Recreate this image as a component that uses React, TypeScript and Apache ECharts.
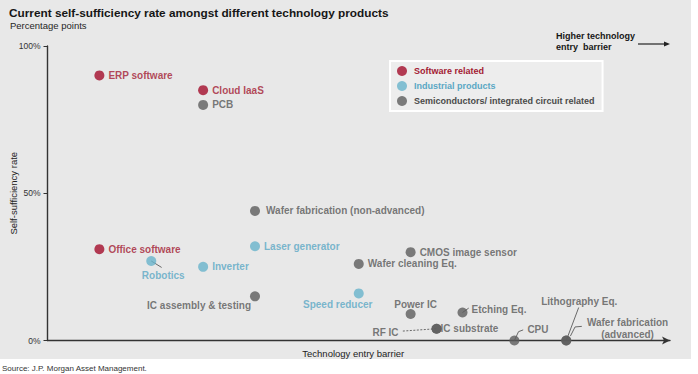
import React, { useEffect, useRef } from 'react';
import * as echarts from 'echarts';

const FONT = "'Liberation Sans', Arial, Helvetica, sans-serif";

// ---- Data ----
const seriesNames = ['Software related', 'Industrial products', 'Semiconductors/ integrated circuit related'];

const softwareNames = ['ERP software', 'Cloud IaaS', 'Office software'];
const softwareX = [1, 3, 1];
const softwareY = [90, 85, 31];

const industrialNames = ['Robotics', 'Inverter', 'Laser generator', 'Speed reducer'];
const industrialX = [2, 3, 4, 6];
const industrialY = [27, 25, 32, 16];

const semiNames = [
  'PCB', 'Wafer fabrication (non-advanced)', 'IC assembly & testing', 'Wafer cleaning Eq.',
  'CMOS image sensor', 'Power IC', 'RF IC', 'IC substrate', 'Etching Eq.', 'CPU',
  'Lithography Eq.', 'Wafer fabrication\n(advanced)',
];
const semiX = [3, 4, 4, 6, 7, 7, 7.5, 7.5, 8, 9, 10, 10];
const semiY = [80, 44, 15, 26, 30, 9, 4, 4, 9.5, 0, 0, 0];

const yTicks = [0, 50, 100];

// leader lines (data units)
const leaderPaths: number[][][] = [
  [[2, 27], [2.2, 24.8]],
  [[6.85, 3.2], [7.5, 4]],
  [[9, 0], [9.08, 3.0], [9.17, 3.6]],
  [[10, 0], [10.24, 11.2]],
  [[10.08, 1.5], [10.17, 4.6], [10.3, 4.8]],
  [[8, 9.5], [8.12, 11]],
];
const dashedLeaders = [false, true, false, false, false, false];

// ---- styling (not data) ----
const RED = '#a30d2a';
const RED_TXT = '#a31a33';
const TEAL = '#68b3cb';
const TEAL_TXT = '#5aa7c4';
const GRAY = '#5c5c5c';
const GRAY_TXT = '#585858';

const labelLayout: Record<string, any> = {
  'Wafer fabrication (non-advanced)': { position: 'right', distance: 6 },
  'Etching Eq.': { position: 'right', distance: 4, offset: [0, -3] },
  'IC substrate': { position: 'right', distance: -1 },
  'CPU': { position: 'right', distance: 8, offset: [0, -11] },
  'Robotics': { position: 'bottom', distance: 4, offset: [12, 0] },
  'IC assembly & testing': { position: 'left', distance: -1, offset: [0, 9] },
  'Speed reducer': { position: 'bottom', distance: 0, offset: [-21, 0] },
  'Power IC': { position: 'top', distance: -2, offset: [5, 0] },
  'RF IC': { position: 'left', distance: 33, offset: [0, 4] },
  'Lithography Eq.': { position: 'top', distance: 28, offset: [13, 0] },
  'Wafer fabrication\n(advanced)': { position: [66.3, -7.3], align: 'center', verticalAlign: 'middle', lineHeight: 12 },
};

function buildData(names: string[], xs: number[], ys: number[]) {
  return names.map((n, i) => {
    const item: any = { name: n, value: [xs[i], ys[i]] };
    if (labelLayout[n]) item.label = labelLayout[n];
    return item;
  });
}

export default function App() {
  const ref = useRef<HTMLDivElement>(null);
  useEffect(() => {
    const chart = echarts.init(ref.current!, null, { renderer: 'svg' });
    const baseLabel = (color: string) => ({
      show: true,
      position: 'right',
      distance: 4,
      formatter: '{b}',
      color,
      fontFamily: FONT,
      fontSize: 10,
      fontWeight: 'bold',
      lineHeight: 12,
    });
    const option: any = {
      animation: false,
      backgroundColor: 'transparent',
      textStyle: { fontFamily: FONT },
      title: [
        {
          text: 'Current self-sufficiency rate amongst different technology products',
          left: 9, top: 7, padding: 0,
          textStyle: { fontFamily: FONT, fontSize: 11.8, fontWeight: 'bold', color: '#161616' },
        },
        {
          text: 'Percentage points',
          left: 10, top: 20, padding: 0,
          textStyle: { fontFamily: FONT, fontSize: 9.5, fontWeight: 'normal', color: '#262626' },
        },
      ],
      grid: { left: 47.5, right: 28, top: 46, bottom: 33.5, containLabel: false, outerBoundsMode: 'none' },
      xAxis: {
        type: 'value', min: 0, max: 12,
        name: 'Technology entry barrier',
        nameLocation: 'middle', nameGap: 8, nameMoveOverlap: false,
        nameTextStyle: { fontFamily: FONT, fontSize: 9.5, color: '#222', verticalAlign: 'top', padding: [0, 11, 0, 0] },
        axisLine: { show: true, lineStyle: { color: '#333', width: 1.4 }, symbol: ['none', 'arrow'], symbolSize: [6, 8] },
        axisTick: { show: false },
        axisLabel: { show: false },
        splitLine: { show: false },
      },
      yAxis: {
        type: 'value', min: 0, max: 100, interval: 50,
        name: 'Self-sufficiency rate',
        nameLocation: 'middle', nameGap: 29, nameMoveOverlap: false,
        nameTextStyle: { fontFamily: FONT, fontSize: 9.5, color: '#222' },
        axisLine: { show: true, lineStyle: { color: '#333', width: 1.4 } },
        axisTick: { show: true, length: 4, lineStyle: { color: '#333', width: 1 } },
        axisLabel: {
          margin: 7, fontFamily: FONT, fontSize: 8.5, color: '#333',
          formatter: (v: number) => (yTicks.includes(v) ? v + '%' : ''),
        },
        splitLine: { show: false },
      },
      legend: {
        orient: 'vertical',
        left: 390, top: 61,
        padding: [5, 8, 5, 7],
        itemWidth: 12, itemHeight: 10, itemGap: 5,
        icon: 'circle',
        backgroundColor: '#ededed',
        borderColor: '#ffffff', borderWidth: 2,
        data: [
          { name: seriesNames[0], textStyle: { color: RED_TXT } },
          { name: seriesNames[1], textStyle: { color: TEAL_TXT } },
          { name: seriesNames[2], textStyle: { color: '#4a4a4a' } },
        ],
        textStyle: { fontFamily: FONT, fontSize: 9, fontWeight: 'bold', padding: [0, 0, 0, 1] },
      },
      graphic: [
        {
          type: 'text', left: 556, top: 31,
          style: {
            text: 'Higher technology\nentry  barrier',
            fontFamily: FONT, fontSize: 9, fontWeight: 'bold', fill: '#161616', lineHeight: 10.5,
          },
        },
        { type: 'line', shape: { x1: 638, y1: 44, x2: 665, y2: 44 }, style: { stroke: '#222', lineWidth: 1.2 } },
        { type: 'polygon', shape: { points: [[664, 41.5], [670, 44], [664, 46.5]] }, style: { fill: '#222' } },
        {
          type: 'text', left: 2, top: 364,
          style: { text: 'Source: J.P. Morgan Asset Management.', fontFamily: FONT, fontSize: 8, fill: '#333' },
        },
      ],
      series: [
        {
          name: 'leaders', type: 'custom', z: 1, silent: true,
          data: leaderPaths.map((p) => [p[0][0], p[0][1]]),
          encode: { x: 0, y: 1 },
          clip: false,
          renderItem: (params: any, api: any) => {
            const pts = leaderPaths[params.dataIndex].map((pt) => api.coord(pt));
            return {
              type: 'polyline',
              shape: { points: pts },
              style: {
                stroke: '#5a5a5a', lineWidth: 0.9, fill: 'none',
                lineDash: dashedLeaders[params.dataIndex] ? [2, 1.5] : null,
              },
            };
          },
        },
        {
          name: seriesNames[0], type: 'scatter', symbolSize: 10, clip: false, z: 3,
          itemStyle: { color: RED },
          label: baseLabel(RED_TXT),
          data: buildData(softwareNames, softwareX, softwareY),
        },
        {
          name: seriesNames[1], type: 'scatter', symbolSize: 10, clip: false, z: 3,
          itemStyle: { color: TEAL },
          label: baseLabel(TEAL_TXT),
          data: buildData(industrialNames, industrialX, industrialY),
        },
        {
          name: seriesNames[2], type: 'scatter', symbolSize: 10, clip: false, z: 3,
          itemStyle: { color: GRAY },
          label: baseLabel(GRAY_TXT),
          data: buildData(semiNames, semiX, semiY),
        },
      ],
    };
    chart.setOption(option);
    return () => chart.dispose();
  }, []);

  return (
    <div style={{ position: 'fixed', left: 0, top: 0, width: 698, height: 374, background: '#ffffff' }}>
      <div style={{ position: 'absolute', left: 0, top: 0, width: 691, height: 359, background: '#e8e8e8' }} />
      <div ref={ref} style={{ position: 'absolute', left: 0, top: 0, width: 698, height: 374 }} />
    </div>
  );
}
